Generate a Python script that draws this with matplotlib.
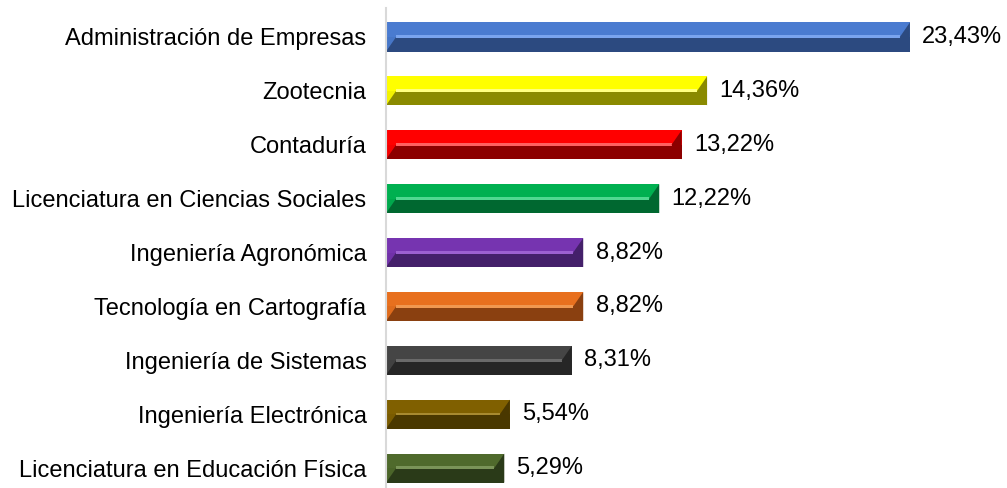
import matplotlib.pyplot as plt
from matplotlib.patches import Polygon, Rectangle

plt.rcParams['font.family'] = ['Liberation Sans', 'DejaVu Sans']

categories = [
    "Administración de Empresas",
    "Zootecnia",
    "Contaduría",
    "Licenciatura en Ciencias Sociales",
    "Ingeniería Agronómica",
    "Tecnología en Cartografía",
    "Ingeniería de Sistemas",
    "Ingeniería Electrónica",
    "Licenciatura en Educación Física",
]
values = [23.43, 14.36, 13.22, 12.22, 8.82, 8.82, 8.31, 5.54, 5.29]
labels = ["23,43%", "14,36%", "13,22%", "12,22%", "8,82%", "8,82%", "8,31%", "5,54%", "5,29%"]

# (top face, highlight, bottom face)
colors = [
    ("#4a7bd0", "#7aa4ee", "#2c4a80"),
    ("#ffff00", "#ffff80", "#8a8a00"),
    ("#ff0000", "#ff6060", "#8c0000"),
    ("#00b050", "#50d890", "#006830"),
    ("#7634b0", "#9c60d0", "#44206a"),
    ("#e8701e", "#f09850", "#8a4010"),
    ("#454545", "#6a6a6a", "#262626"),
    ("#806000", "#a88a30", "#4a3800"),
    ("#4f6a2c", "#7a9458", "#2a3a18"),
]

fig = plt.figure(figsize=(10.07, 4.88), dpi=100)
ax = fig.add_axes([386 / 1007, 0, (1000 - 386) / 1007, 480 / 488])

h = 0.54
bev_x = 0.45
for i, (v, c) in enumerate(zip(values, colors)):
    top, hi, bot = c
    y0, y1 = i - h / 2, i + h / 2
    ym = i
    ax.add_patch(Rectangle((0, y0), v, h, facecolor=top, edgecolor="none"))
    ax.add_patch(Rectangle((0, ym), v, h / 2, facecolor=bot, edgecolor="none"))
    ax.add_patch(Rectangle((bev_x, ym - h * 0.06), v - 2 * bev_x, h * 0.1,
                           facecolor=hi, edgecolor="none"))
    # end bevels
    ax.add_patch(Polygon([(0, y0), (bev_x, ym), (0, y1)], closed=True,
                         facecolor=top, edgecolor="none", alpha=0.9))
    ax.add_patch(Polygon([(v, y0), (v - bev_x, ym), (v, y1)], closed=True,
                         facecolor=bot, edgecolor="none"))
    ax.text(v + 0.55, i, labels[i], va="center", ha="left", fontsize=17, color="black")

ax.set_yticks(range(len(categories)))
ax.set_yticklabels(categories, fontsize=17)
ax.tick_params(axis="y", length=0, pad=14)
ax.set_xticks([])
ax.set_xlim(0, (1000 - 386) / 22.36)
ax.set_ylim(-0.538 + 480 / 53.9, -0.538)
for s in ["top", "right", "bottom"]:
    ax.spines[s].set_visible(False)
ax.spines["left"].set_color("#d9d9d9")
ax.spines["left"].set_linewidth(1.5)

fig.savefig("out.png", dpi=100)
